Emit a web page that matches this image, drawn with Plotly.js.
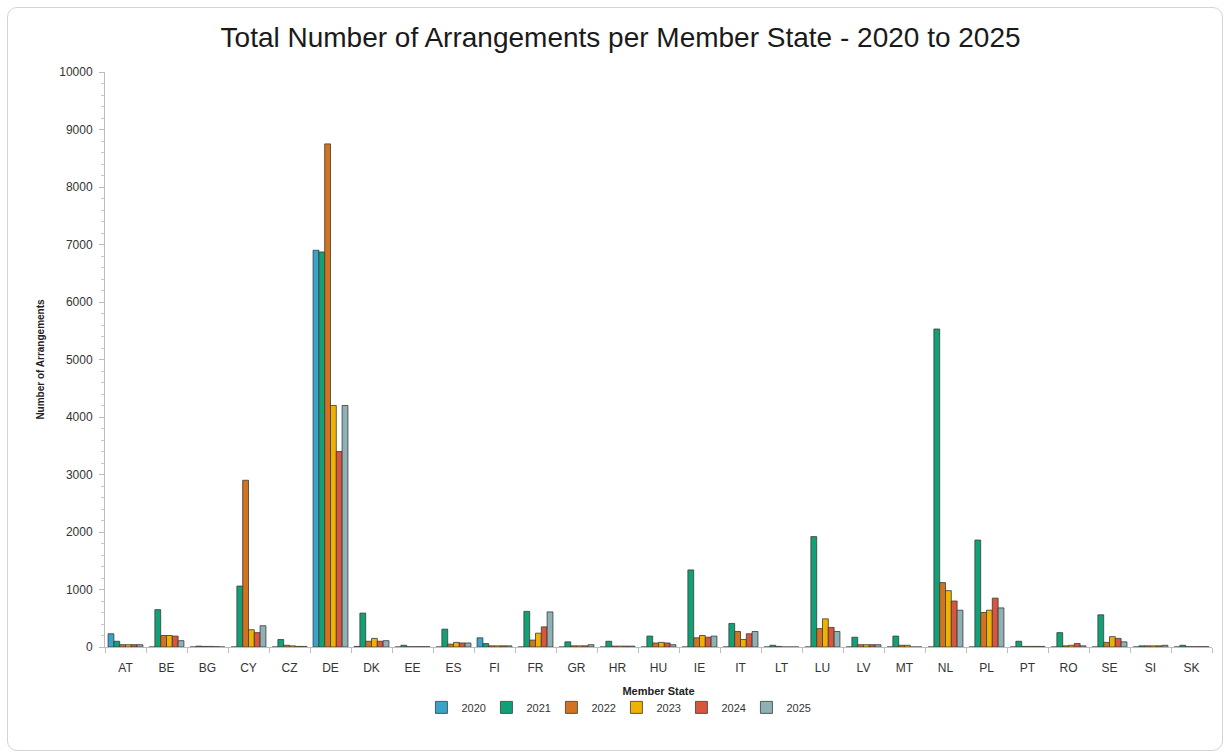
<!DOCTYPE html>
<html>
<head>
<meta charset="utf-8">
<script src="https://cdn.plot.ly/plotly-3.0.1.min.js"></script>
<style>
  html, body { margin: 0; padding: 0; background: #ffffff; }
  #chart { width: 1224px; height: 753px; }
  #frame { position: absolute; left: 7px; top: 7px; width: 1216px; height: 744px;
           border: 1px solid #d4d4d4; border-radius: 10px; box-sizing: border-box; pointer-events: none; }
</style>
</head>
<body>
<div id="chart"></div>
<div id="frame"></div>
<script>
const countries = ["AT","BE","BG","CY","CZ","DE","DK","EE","ES","FI","FR","GR","HR","HU","IE","IT","LT","LU","LV","MT","NL","PL","PT","RO","SE","SI","SK"];
const years = ["2020","2021","2022","2023","2024","2025"];

const v2020 = [230, 0, 0, 0, 0, 6900, 10, 0, 0, 160, 0, 0, 0, 0, 0, 0, 0, 0, 0, 0, 0, 0, 0, 0, 0, 0, 0];
const v2021 = [100, 650, 15, 1060, 130, 6870, 590, 30, 310, 60, 620, 90, 100, 190, 1340, 410, 30, 1920, 170, 190, 5530, 1860, 100, 250, 560, 20, 30];
const v2022 = [40, 200, 10, 2900, 30, 8750, 100, 5, 50, 20, 120, 20, 15, 70, 160, 270, 10, 320, 40, 30, 1120, 600, 10, 20, 80, 20, 5];
const v2023 = [40, 200, 10, 300, 20, 4200, 150, 5, 80, 20, 240, 20, 15, 80, 200, 130, 0, 490, 40, 30, 980, 640, 10, 30, 180, 20, 5];
const v2024 = [40, 190, 5, 250, 10, 3400, 100, 5, 70, 20, 350, 20, 15, 70, 170, 230, 0, 340, 40, 0, 800, 850, 10, 60, 150, 20, 5];
const v2025 = [40, 110, 0, 370, 10, 4200, 110, 5, 70, 20, 610, 40, 15, 40, 190, 270, 0, 270, 40, 0, 640, 680, 10, 20, 90, 30, 5];

const seriesValues = [v2020, v2021, v2022, v2023, v2024, v2025];
const colors = ["#3aa3c8", "#12a077", "#d2731f", "#efb200", "#d8553e", "#8eb1b6"];

const traces = years.map((y, i) => ({
  type: "bar",
  name: y,
  x: countries,
  y: seriesValues[i],
  marker: { color: colors[i], line: { color: "#3a3a3a", width: 0.8 } },
  hoverinfo: "x+y+name"
}));

const fontFam = "Liberation Sans, Arial, sans-serif";

const layout = {
  width: 1224,
  height: 753,
  paper_bgcolor: "rgba(0,0,0,0)",
  plot_bgcolor: "#ffffff",
  margin: { l: 105, r: 12, t: 72, b: 106 },
  title: {
    text: "Total Number of Arrangements per Member State - 2020 to 2025",
    font: { family: fontFam, size: 28, color: "#1a1a1a" },
    x: 0.507, xanchor: "center", y: 0.95, yanchor: "middle"
  },
  barmode: "group",
  bargap: 0.15,
  bargroupgap: 0,
  showlegend: true,
  legend: {
    orientation: "h", x: 0.462, xanchor: "center", y: -0.105, yanchor: "middle",
    font: { family: fontFam, size: 11, color: "#333" },
    itemwidth: 30, entrywidth: 20, entrywidthmode: "pixels", traceorder: "normal"
  },
  xaxis: {
    type: "category",
    showgrid: false,
    showline: true, linecolor: "#bdbdbd", linewidth: 1,
    ticks: "outside", tickson: "boundaries", ticklen: 5, tickcolor: "#bdbdbd",
    ticklabelstandoff: 10,
    tickfont: { family: fontFam, size: 12, color: "#333" },
    title: { text: "<b>Member State</b>", font: { family: fontFam, size: 11, color: "#222" }, standoff: 12 },
    zeroline: false
  },
  yaxis: {
    range: [0, 10000],
    dtick: 1000,
    tick0: 0,
    tickformat: "d",
    showgrid: false,
    showline: true, linecolor: "#bdbdbd", linewidth: 1,
    ticks: "outside", ticklen: 5, tickcolor: "#bdbdbd",
    ticklabelstandoff: 4,
    minor: { dtick: 200, ticks: "outside", ticklen: 3, tickcolor: "#c8c8c8", showgrid: false },
    tickfont: { family: fontFam, size: 12, color: "#333" },
    title: { text: "<b>Number of Arrangements</b>", font: { family: fontFam, size: 10, color: "#222" }, standoff: 12 },
    zeroline: false
  }
};

Plotly.newPlot("chart", traces, layout, { displayModeBar: false, staticPlot: true });
</script>
</body>
</html>
